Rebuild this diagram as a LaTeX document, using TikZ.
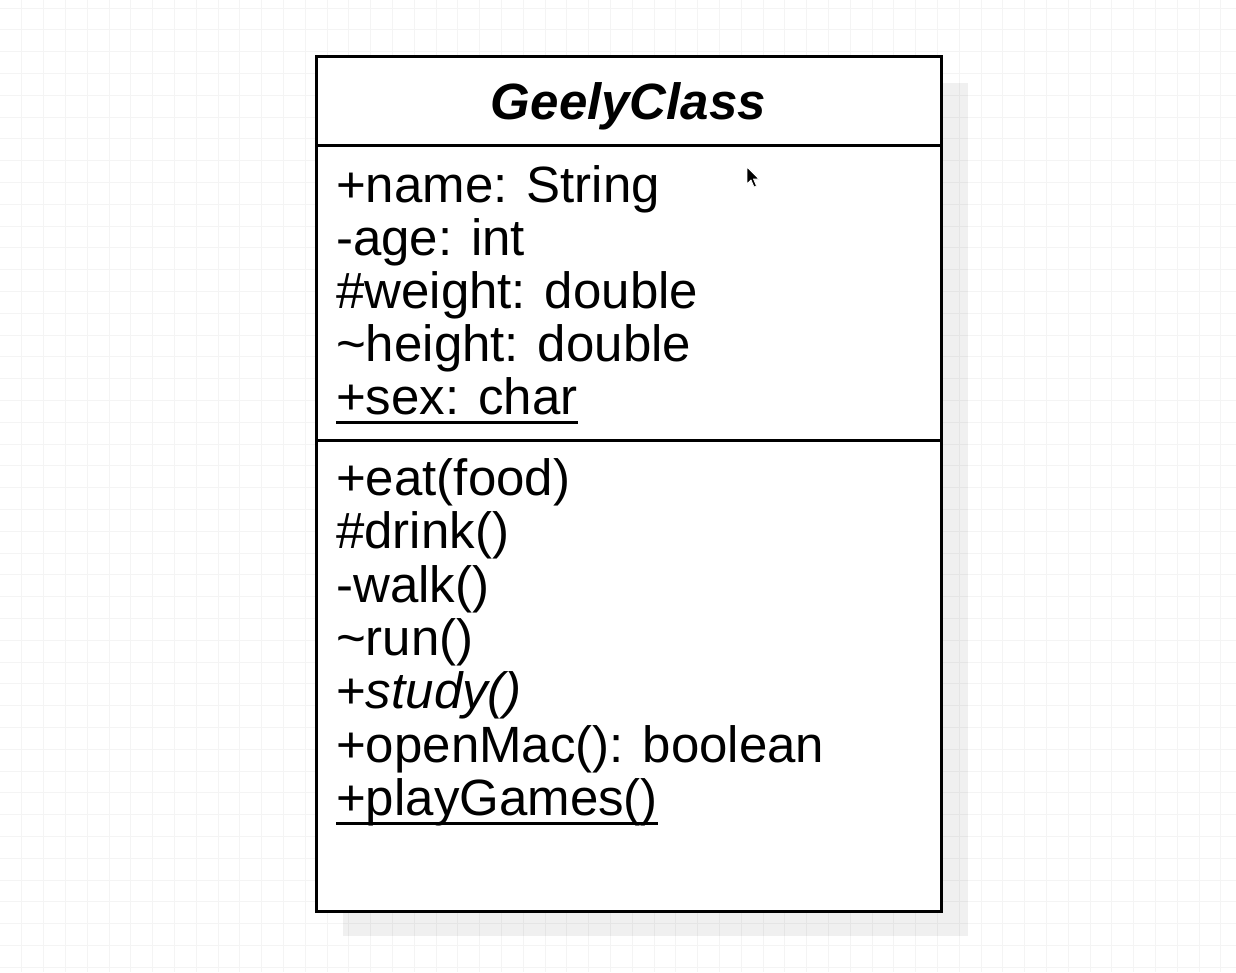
\documentclass[tikz,border=0pt]{standalone}
\usepackage{fontspec}
\setmainfont{Liberation Sans}
\begin{document}
\begin{tikzpicture}[x=1pt,y=-1pt,
  gridline/.style={draw=black!4.5,line width=0.8pt},
  shadowbox/.style={fill=black,fill opacity=0.06,draw=none},
  compartment/.style={draw=black,line width=3pt,fill=white,minimum width=625pt,inner sep=0pt,outer sep=0pt},
  member/.style={anchor=base west,inner sep=0pt,font=\fontsize{51}{53}\selectfont},
  titletext/.style={anchor=base,inner sep=0pt,font=\fontsize{51}{53}\selectfont\bfseries\itshape},
  uline/.style={line width=3pt}
]
\useasboundingbox (0,0) rectangle (1236,972);
\fill[white] (0,0) rectangle (1236,972);
% grid
\foreach \i in {1,...,56} {\draw[gridline] ({\i*21.8},0) -- ({\i*21.8},972);}
\foreach \j in {0,...,44} {\draw[gridline] (0,{8+\j*21.8}) -- (1236,{8+\j*21.8});}
% shadow
\fill[shadowbox] (343,83) rectangle (968,936);
% compartments
\node[compartment,minimum height=89pt] (head) at (628.5,100.5) {};
\node[compartment,minimum height=295pt] (attrs) at (628.5,292.5) {};
\node[compartment,minimum height=471pt] (meths) at (628.5,675.5) {};
% title
\node[titletext] (title) at (628.5,119) {GeelyClass};
% attributes
\node[member] (a1) at (336,202) {+name: String};
\node[member] (a2) at (336,255) {-age: int};
\node[member] (a3) at (336,308) {\#weight: double};
\node[member] (a4) at (336,361) {\textasciitilde height: double};
\node[member] (a5) at (336,414) {+sex: char};
\draw[uline] ([yshift=-8pt]a5.base west) -- ([yshift=-8pt]a5.base east);
% methods
\node[member] (m1) at (336,495) {+eat(food)};
\node[member] (m2) at (336,548.5) {\#drink()};
\node[member] (m3) at (336,602) {-walk()};
\node[member] (m4) at (336,655) {\textasciitilde run()};
\node[member] (m5) at (336,708.5) {+\textit{study()}};
\node[member] (m6) at (336,762) {+openMac(): boolean};
\node[member] (m7) at (336,815) {+playGames()};
\draw[uline] ([yshift=-8pt]m7.base west) -- ([yshift=-8pt]m7.base east);
% mouse cursor
\filldraw[fill=black,draw=white,line width=0.8pt,line join=round]
  (747,167) -- (747,184) -- (751,180) -- (754,187) -- (756.5,186) -- (753.5,179) -- (759,179) -- cycle;
\end{tikzpicture}
\end{document}
